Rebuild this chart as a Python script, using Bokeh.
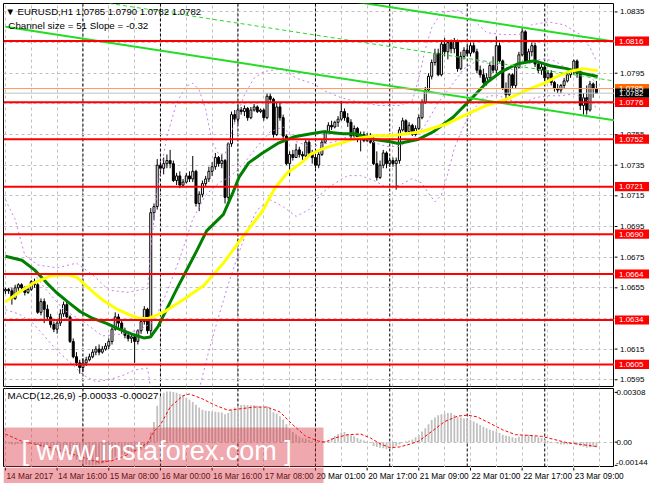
from bokeh.plotting import figure
from bokeh.layouts import column, row
from bokeh.models import (Range1d, FixedTicker, Span, Label, Grid, ColumnDataSource,
                          BoxAnnotation)
from bokeh.core.properties import value
from bokeh.embed import file_html
from bokeh.resources import INLINE

# ---------------- data ----------------
bar_index = list(range(184))

opens = [1.0653,1.0654,1.0653,1.0648,1.0655,1.0657,1.0655,1.0652,1.0654,1.0659,
1.0657,1.0639,1.0646,1.0641,1.0636,1.0631,1.0628,1.0632,1.0638,1.0644,
1.0636,1.0620,1.0610,1.0606,1.0603,1.0606,1.0608,1.0610,1.0613,1.0615,
1.0613,1.0615,1.0617,1.0620,1.0628,1.0636,1.0632,1.0627,1.0624,1.0622,
1.0623,1.0620,1.0627,1.0633,1.0641,1.0627,1.0704,1.0708,1.0735,1.0733,
1.0736,1.0738,1.0736,1.0725,1.0728,1.0722,1.0724,1.0728,1.0726,1.0731,
1.0710,1.0716,1.0723,1.0726,1.0731,1.0734,1.0740,1.0736,1.0738,1.0714,
1.0749,1.0768,1.0765,1.0771,1.0770,1.0772,1.0766,1.0771,1.0773,1.0770,
1.0771,1.0766,1.0780,1.0778,1.0755,1.0773,1.0766,1.0754,1.0736,1.0742,
1.0740,1.0745,1.0742,1.0741,1.0750,1.0743,1.0740,1.0735,1.0742,1.0750,
1.0757,1.0761,1.0760,1.0763,1.0765,1.0770,1.0766,1.0763,1.0754,1.0759,
1.0752,1.0755,1.0751,1.0754,1.0750,1.0736,1.0727,1.0735,1.0743,1.0736,
1.0738,1.0736,1.0738,1.0758,1.0764,1.0757,1.0761,1.0755,1.0759,1.0766,
1.0776,1.0784,1.0793,1.0802,1.0808,1.0794,1.0814,1.0809,1.0815,1.0811,
1.0816,1.0798,1.0806,1.0810,1.0808,1.0813,1.0809,1.0797,1.0794,1.0789,
1.0792,1.0800,1.0797,1.0813,1.0803,1.0785,1.0781,1.0794,1.0787,1.0799,
1.0807,1.0822,1.0803,1.0809,1.0813,1.0801,1.0797,1.0799,1.0792,1.0795,
1.0789,1.0785,1.0784,1.0787,1.0790,1.0794,1.0796,1.0803,1.0795,1.0774,
1.0779,1.0771,1.0788,1.0785]

highs = [1.0655,1.0655,1.0655,1.0657,1.0658,1.0658,1.0656,1.0655,1.0660,1.0661,
1.0658,1.0648,1.0648,1.0644,1.0638,1.0633,1.0634,1.0641,1.0646,1.0646,
1.0637,1.0622,1.0613,1.0608,1.0609,1.0610,1.0612,1.0615,1.0617,1.0618,
1.0617,1.0619,1.0622,1.0630,1.0639,1.0638,1.0634,1.0629,1.0626,1.0625,
1.0625,1.0628,1.0636,1.0643,1.0642,1.0707,1.0710,1.0739,1.0737,1.0740,
1.0742,1.0745,1.0738,1.0730,1.0731,1.0726,1.0730,1.0731,1.0741,1.0732,
1.0718,1.0725,1.0728,1.0734,1.0737,1.0743,1.0741,1.0742,1.0739,1.0750,
1.0770,1.0771,1.0774,1.0773,1.0774,1.0773,1.0773,1.0775,1.0774,1.0772,
1.0772,1.0782,1.0782,1.0779,1.0776,1.0776,1.0768,1.0755,1.0744,1.0745,
1.0749,1.0747,1.0744,1.0752,1.0752,1.0745,1.0742,1.0744,1.0752,1.0758,
1.0763,1.0764,1.0764,1.0767,1.0777,1.0772,1.0769,1.0765,1.0761,1.0760,
1.0757,1.0757,1.0756,1.0756,1.0754,1.0744,1.0738,1.0745,1.0744,1.0740,
1.0740,1.0740,1.0760,1.0766,1.0765,1.0763,1.0762,1.0761,1.0768,1.0778,
1.0786,1.0795,1.0804,1.0811,1.0811,1.0816,1.0818,1.0816,1.0817,1.0818,
1.0817,1.0809,1.0812,1.0813,1.0815,1.0815,1.0811,1.0800,1.0798,1.0795,
1.0802,1.0806,1.0819,1.0815,1.0804,1.0789,1.0795,1.0795,1.0801,1.0809,
1.0825,1.0823,1.0811,1.0815,1.0815,1.0803,1.0801,1.0801,1.0797,1.0797,
1.0790,1.0788,1.0788,1.0792,1.0795,1.0798,1.0804,1.0804,1.0797,1.0782,
1.0787,1.0790,1.0789,1.0790]

lows = [1.0651,1.0651,1.0644,1.0647,1.0653,1.0653,1.0650,1.0651,1.0653,1.0655,
1.0638,1.0637,1.0632,1.0634,1.0629,1.0626,1.0625,1.0630,1.0636,1.0635,
1.0619,1.0609,1.0604,1.0599,1.0600,1.0604,1.0607,1.0609,1.0611,1.0611,
1.0612,1.0614,1.0615,1.0618,1.0627,1.0629,1.0625,1.0622,1.0620,1.0619,
1.0606,1.0618,1.0625,1.0631,1.0625,1.0624,1.0699,1.0706,1.0729,1.0729,
1.0733,1.0733,1.0724,1.0722,1.0720,1.0721,1.0723,1.0724,1.0724,1.0708,
1.0705,1.0714,1.0721,1.0724,1.0728,1.0732,1.0734,1.0733,1.0710,1.0712,
1.0747,1.0763,1.0762,1.0768,1.0767,1.0764,1.0765,1.0770,1.0769,1.0769,
1.0764,1.0765,1.0776,1.0753,1.0754,1.0764,1.0752,1.0735,1.0728,1.0738,
1.0740,1.0740,1.0738,1.0740,1.0741,1.0736,1.0733,1.0733,1.0741,1.0749,
1.0756,1.0758,1.0759,1.0760,1.0764,1.0764,1.0760,1.0752,1.0752,1.0750,
1.0744,1.0750,1.0750,1.0749,1.0735,1.0725,1.0726,1.0733,1.0733,1.0734,
1.0734,1.0719,1.0736,1.0757,1.0755,1.0755,1.0754,1.0754,1.0758,1.0765,
1.0775,1.0783,1.0791,1.0800,1.0793,1.0793,1.0806,1.0804,1.0808,1.0808,
1.0796,1.0797,1.0804,1.0806,1.0806,1.0808,1.0795,1.0792,1.0788,1.0787,
1.0790,1.0795,1.0795,1.0802,1.0784,1.0776,1.0780,1.0785,1.0785,1.0798,
1.0806,1.0802,1.0802,1.0806,1.0799,1.0795,1.0794,1.0790,1.0789,1.0787,
1.0783,1.0782,1.0782,1.0785,1.0789,1.0792,1.0794,1.0792,1.0771,1.0768,
1.0768,1.0770,1.0779,1.0782]

closes = [1.0654,1.0653,1.0648,1.0655,1.0657,1.0655,1.0652,1.0654,1.0659,1.0657,
1.0639,1.0646,1.0641,1.0636,1.0631,1.0628,1.0632,1.0638,1.0644,1.0636,
1.0620,1.0610,1.0606,1.0603,1.0606,1.0608,1.0610,1.0613,1.0615,1.0613,
1.0615,1.0617,1.0620,1.0628,1.0636,1.0632,1.0627,1.0624,1.0622,1.0623,
1.0620,1.0627,1.0633,1.0641,1.0627,1.0704,1.0708,1.0735,1.0733,1.0736,
1.0738,1.0736,1.0725,1.0728,1.0722,1.0724,1.0728,1.0726,1.0731,1.0710,
1.0716,1.0723,1.0726,1.0731,1.0734,1.0740,1.0736,1.0738,1.0714,1.0749,
1.0768,1.0765,1.0771,1.0770,1.0772,1.0766,1.0771,1.0773,1.0770,1.0771,
1.0766,1.0780,1.0778,1.0755,1.0773,1.0766,1.0754,1.0736,1.0742,1.0740,
1.0745,1.0742,1.0741,1.0750,1.0743,1.0740,1.0735,1.0742,1.0750,1.0757,
1.0761,1.0760,1.0763,1.0765,1.0770,1.0766,1.0763,1.0754,1.0759,1.0752,
1.0755,1.0751,1.0754,1.0750,1.0736,1.0727,1.0735,1.0743,1.0736,1.0738,
1.0736,1.0738,1.0758,1.0764,1.0757,1.0761,1.0755,1.0759,1.0766,1.0776,
1.0784,1.0793,1.0802,1.0808,1.0794,1.0814,1.0809,1.0815,1.0811,1.0816,
1.0798,1.0806,1.0810,1.0808,1.0813,1.0809,1.0797,1.0794,1.0789,1.0792,
1.0800,1.0797,1.0813,1.0803,1.0785,1.0781,1.0794,1.0787,1.0799,1.0807,
1.0822,1.0803,1.0809,1.0813,1.0801,1.0797,1.0799,1.0792,1.0795,1.0789,
1.0785,1.0784,1.0787,1.0790,1.0794,1.0796,1.0803,1.0795,1.0774,1.0779,
1.0771,1.0788,1.0785,1.0782]

# moving averages (yellow and dark green), read as polylines
ma_yellow_idx = [0, 4.2, 9, 14.2, 19.3, 22.3, 26.2, 30.1, 34.3, 38.3, 41.3, 44.3, 47.3, 49.7,
                 55.4, 61.4, 67.5, 73.5, 76.5, 79.5, 83.4, 87.3, 91.6, 94.6, 98.5, 108.4, 114.5,
                 119.6, 128.6, 136.7, 142.8, 148.8, 154.8, 160.8, 166.9, 170.8, 174.7, 178.9, 183.4]
ma_yellow = [1.06458, 1.06521, 1.06584, 1.06629, 1.06635, 1.06616, 1.06540, 1.06470, 1.06413,
             1.06375, 1.06350, 1.06350, 1.06375, 1.06400, 1.06477, 1.06565, 1.06711, 1.06883,
             1.06965, 1.07048, 1.07200, 1.07301, 1.07365, 1.07422, 1.07460, 1.07523, 1.07542,
             1.07542, 1.07568, 1.07619, 1.07682, 1.07739, 1.07777, 1.07834, 1.07885, 1.07929,
             1.07961, 1.07980, 1.07967]
ma_green_idx = [0, 5.1, 9, 12.7, 15.7, 19.3, 23.2, 27.1, 31.3, 35.2, 39.2, 42.8, 44.9, 47.3,
                50.3, 53.3, 56.3, 59.3, 62.3, 67.5, 70.5, 72.3, 75.3, 79.5, 84.3, 89.5, 94.6,
                98.5, 104.5, 108.4, 114.2, 118.7, 121.7, 127.7, 132.5, 138.6, 143.7, 148.8,
                153.6, 158.7, 163.9, 168.7, 173.8, 178.9, 183.4]
ma_green = [1.06756, 1.06730, 1.06667, 1.06584, 1.06521, 1.06458, 1.06394, 1.06350, 1.06318,
            1.06280, 1.06248, 1.06223, 1.06229, 1.06299, 1.06426, 1.06553, 1.06673, 1.06794,
            1.06921, 1.07029, 1.07174, 1.07270, 1.07365, 1.07428, 1.07492, 1.07536, 1.07555,
            1.07568, 1.07555, 1.07555, 1.07517, 1.07504, 1.07492, 1.07517, 1.07568, 1.07663,
            1.07771, 1.07885, 1.07961, 1.08012, 1.08031, 1.07999, 1.07980, 1.07948, 1.07929]

# Bollinger bands (violet dotted)
bb_up_idx = [0, 3, 6, 10, 16, 22, 27, 32, 38, 44, 45, 47, 50, 53, 56, 58, 60, 62, 64, 66, 68, 71,
             74, 77, 80, 86, 90, 95, 99, 104, 110, 116, 122, 126, 128, 130, 132, 135, 140, 145,
             149, 154, 159, 163, 168, 173, 178, 181, 183]
bb_up = [1.07124, 1.06997, 1.06762, 1.06699, 1.06680, 1.06711, 1.06635, 1.06534, 1.06521,
         1.06546, 1.06806, 1.07187, 1.07536, 1.07758, 1.07866, 1.07885, 1.07841, 1.07714,
         1.07504, 1.07422, 1.07422, 1.07631, 1.07809, 1.07917, 1.07961, 1.07980, 1.07917,
         1.07885, 1.07834, 1.07790, 1.07758, 1.07739, 1.07739, 1.07771, 1.07917, 1.08107,
         1.08247, 1.08348, 1.08361, 1.08297, 1.08215, 1.08202, 1.08202, 1.08266, 1.08285,
         1.08266, 1.08202, 1.08120, 1.08031]
bb_mid_idx = [0, 6, 12, 18, 24, 30, 36, 42, 46, 50, 54, 58, 62, 66, 70, 74, 78, 82, 86, 90, 94,
              98, 102, 106, 110, 114, 118, 122, 126, 130, 134, 138, 142, 146, 150, 154, 158,
              162, 166, 170, 174, 178, 183]
bb_mid = [1.06762, 1.06724, 1.06553, 1.06407, 1.06331, 1.06236, 1.06248, 1.06280, 1.06331,
          1.06521, 1.06743, 1.06997, 1.07155, 1.07232, 1.07282, 1.07365, 1.07473, 1.07568,
          1.07600, 1.07504, 1.07473, 1.07485, 1.07504, 1.07536, 1.07536, 1.07498, 1.07473,
          1.07473, 1.07517, 1.07612, 1.07758, 1.07866, 1.07980, 1.08031, 1.08012, 1.07993,
          1.07967, 1.08012, 1.08044, 1.08031, 1.07980, 1.07967, 1.07891]
bb_lo_idx = [0, 4, 8, 12, 16, 20, 24, 28, 32, 36, 40, 44, 45, 46, 49, 53, 57, 60, 63, 66, 69,
             72, 75, 78, 82, 86, 90, 94, 98, 102, 106, 110, 114, 118, 122, 126, 129, 131, 133,
             135, 137, 139, 142, 145, 148, 152, 156, 160, 164, 168, 172, 176, 180, 183]
bb_lo = [1.06407, 1.06381, 1.06331, 1.06236, 1.06140, 1.06064, 1.05982, 1.05937, 1.05950,
         1.05975, 1.06014, 1.06026, 1.05887, 1.05760, 1.05443, 1.05252, 1.05443, 1.05887,
         1.06140, 1.06362, 1.06572, 1.06762, 1.06933, 1.07060, 1.07124, 1.07079, 1.07016,
         1.07060, 1.07168, 1.07232, 1.07282, 1.07282, 1.07251, 1.07206, 1.07219, 1.07263,
         1.07232, 1.07168, 1.07111, 1.07155, 1.07295, 1.07460, 1.07612, 1.07714, 1.07790,
         1.07809, 1.07777, 1.07752, 1.07790, 1.07803, 1.07803, 1.07815, 1.07777, 1.07726]

# linear regression channel
channel_idx = [0, 189]
channel_mid = [1.0851, 1.07898]
channel_half_width = 0.00257

# horizontal levels
levels = [1.0816, 1.0776, 1.0752, 1.0721, 1.0690, 1.0664, 1.0634, 1.0605]
ask_price = 1.0785
bid_price = 1.0782

# MACD(12,26,9)
macd_hist = [-0.00008,-0.00010,-0.00014,-0.00014,-0.00012,-0.00012,-0.00014,-0.00014,-0.00010,-0.00008,
-0.00022,-0.00028,-0.00035,-0.00042,-0.00052,-0.00062,-0.00066,-0.00064,-0.00058,-0.00060,
-0.00075,-0.00092,-0.00108,-0.00122,-0.00132,-0.00138,-0.00141,-0.00144,-0.00142,-0.00138,
-0.00132,-0.00126,-0.00118,-0.00106,-0.00090,-0.00082,-0.00078,-0.00074,-0.00070,-0.00066,
-0.00062,-0.00056,-0.00048,-0.00038,-0.00034,0.00060,0.00125,0.00225,0.00280,0.00305,
0.00314,0.00314,0.00310,0.00305,0.00298,0.00290,0.00275,0.00262,0.00248,0.00232,
0.00215,0.00200,0.00195,0.00192,0.00190,0.00188,0.00185,0.00183,0.00172,0.00180,
0.00200,0.00215,0.00225,0.00230,0.00232,0.00230,0.00228,0.00228,0.00225,0.00222,
0.00215,0.00222,0.00210,0.00185,0.00178,0.00160,0.00140,0.00110,0.00082,0.00062,
0.00048,0.00035,0.00024,0.00022,0.00015,0.00008,0.00002,0.00004,0.00006,0.00006,
0.00008,0.00026,0.00038,0.00050,0.00060,0.00062,0.00050,0.00042,0.00036,0.00026,
0.00016,0.00010,0.00006,-0.00004,-0.00024,-0.00030,-0.00034,-0.00038,-0.00044,-0.00040,
-0.00034,-0.00024,-0.00014,-0.00004,0.00006,0.00010,0.00016,0.00030,0.00046,0.00066,
0.00086,0.00110,0.00137,0.00152,0.00167,0.00172,0.00177,0.00180,0.00181,0.00170,
0.00157,0.00152,0.00147,0.00142,0.00137,0.00128,0.00117,0.00106,0.00096,0.00086,
0.00076,0.00070,0.00066,0.00056,0.00046,0.00040,0.00036,0.00030,0.00026,0.00034,
0.00042,0.00044,0.00046,0.00040,0.00036,0.00030,0.00026,0.00016,0.00006,0.00002,
-0.00004,-0.00010,-0.00014,-0.00014,-0.00014,-0.00012,-0.00010,-0.00016,-0.00024,-0.00028,
-0.00034,-0.00032,-0.00030,-0.00033]
macd_signal_idx = [0, 5, 14, 24, 29, 33, 37, 41, 44, 46, 48, 51, 55, 57, 61, 65, 69, 73, 77, 81,
                   85, 89, 93, 97, 99, 102, 106, 110, 113, 116, 119, 122, 125, 128, 132, 136,
                   140, 143, 146, 150, 154, 158, 162, 166, 170, 174, 178, 183]
macd_signal = [0.00050, 0.00006, -0.00034, -0.00095, -0.00125, -0.00115, -0.00085, -0.00044,
               -0.00004, 0.00066, 0.00107, 0.00217, 0.00288, 0.00298, 0.00268, 0.00228, 0.00197,
               0.00207, 0.00217, 0.00217, 0.00187, 0.00107, 0.00036, 0.00006, 0.00000, 0.00026,
               0.00046, 0.00050, 0.00026, -0.00010, -0.00034, -0.00030, -0.00014, 0.00006,
               0.00066, 0.00127, 0.00161, 0.00167, 0.00157, 0.00117, 0.00076, 0.00046, 0.00042,
               0.00036, 0.00016, -0.00004, -0.00014, -0.00027]

# axes
price_ticks = [1.0595, 1.0615, 1.0635, 1.0655, 1.0675, 1.0695, 1.0715, 1.0735, 1.0755,
               1.0775, 1.0795, 1.0815, 1.0835]
macd_ticks = [0.00308, 0.0, -0.00144]
macd_tick_labels = ["0.00308", "0.00", "-0.00144"]
date_tick_idx = [0, 16, 32, 48, 64, 80, 96, 112, 128, 144, 160, 176]
date_tick_labels = ["14 Mar 2017", "14 Mar 16:00", "15 Mar 08:00", "16 Mar 00:00",
                    "16 Mar 16:00", "17 Mar 08:00", "20 Mar 01:00", "20 Mar 17:00",
                    "21 Mar 09:00", "22 Mar 01:00", "22 Mar 17:00", "23 Mar 09:00"]
day_break_idx = [24, 48, 72, 96, 119, 143, 167]

# ---------------- layout / style constants ----------------
FONT = "Liberation Sans"
X_START, X_END = -0.6, 188.6
Y1_START, Y1_END = 1.05906, 1.08405
Y2_START, Y2_END = -0.00157, 0.00332
FRAME_W = 611
SCALE_W = 35
F1_H, F2_H, F3_H = 383, 79, 16
WM_RIGHT = 98.5          # watermark band right edge (bar units)
WM_TOP = 0.00091         # watermark band top (MACD units)
TAG_HALF_PX = 4.6
PX_PER_BAR = FRAME_W / (X_END - X_START)
xr = Range1d(X_START, X_END)
xr3 = Range1d(X_START, X_END + SCALE_W / PX_PER_BAR)
y1r = Range1d(Y1_START, Y1_END)
y2r = Range1d(Y2_START, Y2_END)
grid_idx = list(range(0, 190, 8))
WM_FILL = "#d9303c"
WM_ALPHA = 0.42


def base_fig(fw, fh, x_range, y_range, top, bottom, left, outline="#000000"):
    f = figure(frame_width=fw, frame_height=fh, x_range=x_range, y_range=y_range,
               x_axis_location=None, y_axis_location=None, output_backend="svg",
               toolbar_location=None, min_border_left=left, min_border_right=0,
               min_border_top=top, min_border_bottom=bottom, outline_line_color=outline,
               background_fill_color="white", border_fill_color="white")
    f.grid.visible = False
    return f


def chart_grid(fig):
    fig.add_layout(Grid(dimension=0, ticker=FixedTicker(ticks=grid_idx),
                        grid_line_color="#c0c0c0", grid_line_dash="3 3", grid_line_width=1))
    for d in day_break_idx:
        fig.add_layout(Span(location=d, dimension="height", line_color="#000000",
                            line_dash="3 2", line_width=1, level="underlay"))


# ---- price pane
p1 = base_fig(FRAME_W, F1_H, xr, y1r, 3, 1, 3)
chart_grid(p1)
p1.add_layout(Grid(dimension=1, ticker=FixedTicker(ticks=price_ticks),
                   grid_line_color="#c0c0c0", grid_line_dash="3 3", grid_line_width=1))

src = ColumnDataSource(dict(
    i=bar_index, o=opens, h=highs, l=lows, c=closes,
    top=[max(a, b) for a, b in zip(opens, closes)],
    bot=[min(a, b) for a, b in zip(opens, closes)],
    fill=["#ffffff" if c >= o else "#000000" for o, c in zip(opens, closes)]))
p1.segment(x0="i", y0="l", x1="i", y1="h", source=src, line_color="#000000", line_width=1)
p1.vbar(x="i", top="top", bottom="bot", width=0.62, source=src, fill_color="fill",
        line_color="#000000", line_width=1)

for xs, ys in ((bb_up_idx, bb_up), (bb_mid_idx, bb_mid), (bb_lo_idx, bb_lo)):
    p1.line(xs, ys, line_color="#c57fe6", line_dash="2 3", line_width=1)

p1.line(ma_green_idx, ma_green, line_color="#008000", line_width=3)
p1.line(ma_yellow_idx, ma_yellow, line_color="#ffff00", line_width=3)

ch_up = [m + channel_half_width for m in channel_mid]
ch_lo = [m - channel_half_width for m in channel_mid]
p1.line(channel_idx, ch_up, line_color="#22dd22", line_width=2)
p1.line(channel_idx, channel_mid, line_color="#22dd22", line_width=1, line_dash="4 3")
p1.line(channel_idx, ch_lo, line_color="#22dd22", line_width=2)

for lv in levels:
    p1.add_layout(Span(location=lv, dimension="width", line_color="#ff0000", line_width=2))
p1.add_layout(Span(location=ask_price, dimension="width", line_color="#ff9a5c", line_width=1))
p1.add_layout(Span(location=bid_price, dimension="width", line_color="#c0c0c0", line_width=1))

p1.add_layout(Label(x=0.0, y=1.0839, text="\u25bc EURUSD,H1  1.0785 1.0790 1.0782 1.0782",
                    text_font=FONT, text_font_size="9.6px", text_baseline="top",
                    text_align="left", text_color="#000000"))
p1.add_layout(Label(x=0.9, y=1.0830, text="Channel size = 51 Slope = -0.32",
                    text_font=FONT, text_font_size="9.8px", text_baseline="top",
                    text_align="left", text_color="#000000"))

# price scale with level tags
s1 = base_fig(SCALE_W, F1_H, Range1d(0, SCALE_W), y1r, 3, 1, 0, outline=None)
s1.segment(x0=[0] * len(price_ticks), x1=[3] * len(price_ticks), y0=price_ticks,
           y1=price_ticks, line_color="#000000", line_width=1)
s1.text(x=[5.5] * len(price_ticks), y=price_ticks, text=["%.4f" % t for t in price_ticks],
        text_font=value(FONT), text_font_size="8px", text_baseline="middle",
        text_align="left", text_color="#000000")
tag_half = TAG_HALF_PX * (Y1_END - Y1_START) / F1_H
tag_vals = [ask_price, bid_price] + levels
tag_cols = ["#ff6a00", "#000000"] + ["#ff0000"] * len(levels)
s1.quad(left=[0.5] * len(tag_vals), right=[SCALE_W] * len(tag_vals),
        top=[v + tag_half for v in tag_vals], bottom=[v - tag_half for v in tag_vals],
        fill_color=tag_cols, line_color=None)
s1.text(x=[4.5] * len(tag_vals), y=tag_vals, text=["%.4f" % v for v in tag_vals],
        text_font=value(FONT), text_font_size="8px", text_baseline="middle",
        text_align="left", text_color="#ffffff")

# ---- MACD pane
p2 = base_fig(FRAME_W, F2_H, xr, y2r, 1, 0, 3)
chart_grid(p2)
p2.add_layout(Grid(dimension=1, ticker=FixedTicker(ticks=[0.0]),
                   grid_line_color="#c0c0c0", grid_line_dash="3 3", grid_line_width=1))
p2.vbar(x=bar_index, top=macd_hist, bottom=0, width=0.55, fill_color="#c0c0c0",
        line_color=None)
p2.line(macd_signal_idx, macd_signal, line_color="#ff0000", line_dash="3 2", line_width=1)
p2.add_layout(Label(x=0.65, y=0.00322, text="MACD(12,26,9) -0.00033 -0.00027",
                    text_font=FONT, text_font_size="9.8px", text_baseline="top",
                    text_align="left", text_color="#000000"))
p2.add_layout(BoxAnnotation(right=WM_RIGHT, top=WM_TOP, fill_color=WM_FILL,
                            fill_alpha=WM_ALPHA, line_color=None))
p2.add_layout(Label(x=5.0, y=-0.00054, text="[  www.instaforex.com  ]", text_color="#ffffff",
                    text_font=FONT, text_font_size="27px", text_baseline="middle",
                    text_align="left"))

s2 = base_fig(SCALE_W, F2_H, Range1d(0, SCALE_W), y2r, 1, 0, 0, outline=None)
s2.segment(x0=[0] * len(macd_ticks), x1=[3] * len(macd_ticks), y0=macd_ticks,
           y1=macd_ticks, line_color="#000000", line_width=1)
s2.text(x=[2.0] * 2, y=macd_ticks[:2], text=macd_tick_labels[:2],
        text_font=value(FONT), text_font_size="8px", text_baseline="middle",
        text_align="left", text_color="#000000")
# lowest label sits just above its tick so it stays inside the pane (as in MT4)
s2.text(x=[1.5], y=macd_ticks[2:], text=macd_tick_labels[2:],
        text_font=value(FONT), text_font_size="8px", text_baseline="bottom",
        text_align="left", text_color="#000000")

# ---- time scale strip (spans under the value scale too, so the last label fits)
p3 = base_fig(FRAME_W + SCALE_W, F3_H, xr3, Range1d(0, F3_H), 0, 0, 3, outline=None)
p3.segment(x0=date_tick_idx, x1=date_tick_idx, y0=[F3_H] * len(date_tick_idx),
           y1=[F3_H - 3] * len(date_tick_idx), line_color="#000000", line_width=1)
p3.text(x=date_tick_idx, y=[F3_H - 3.5] * len(date_tick_idx), text=date_tick_labels,
        text_font=value(FONT), text_font_size="8.3px", text_baseline="top",
        text_align="left", text_color="#000000", x_offset=1)
p3.add_layout(BoxAnnotation(right=WM_RIGHT, fill_color=WM_FILL, fill_alpha=WM_ALPHA,
                            line_color=None))

layout = column(row(p1, s1), row(p2, s2), p3)
open("out.html", "w").write(file_html(layout, INLINE, title="EURUSD H1"))
